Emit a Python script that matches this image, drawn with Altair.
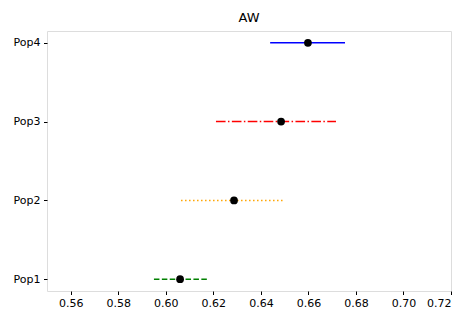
import altair as alt
import pandas as pd

pops = ["Pop1", "Pop2", "Pop3", "Pop4"]
centers = [0.606, 0.6287, 0.6485, 0.6598]
lows = [0.595, 0.6064, 0.6211, 0.6439]
highs = [0.6178, 0.6497, 0.6716, 0.6754]
colors = ["green", "orange", "red", "blue"]
dashes = [[5.5, 2.4], [1.5, 2.5], [9.6, 2.4, 1.5, 2.4], [1, 0]]
xticks = [0.56, 0.58, 0.60, 0.62, 0.64, 0.66, 0.68, 0.70, 0.72]

df = pd.DataFrame({"pop": pops, "c": centers, "lo": lows, "hi": highs})

x_scale = alt.Scale(domain=[0.55, 0.72], nice=False, zero=False)
y_scale = alt.Scale(type="point", padding=0.15)
y_enc = alt.Y("pop:N", sort=list(reversed(pops)), scale=y_scale,
              axis=alt.Axis(title=None, labelFontSize=11, labelColor="black",
                            tickColor="black", domain=False, grid=False,
                            tickSize=3.5, labelPadding=3.5, labelFont="DejaVu Sans"))

rules = alt.Chart(df).mark_rule(strokeWidth=1.5).encode(
    x=alt.X("lo:Q", scale=x_scale,
            axis=alt.Axis(title=None, values=xticks,
                          format=".2f", labelFontSize=11, labelColor="black",
                          tickColor="black", domain=False, grid=False, tickSize=3.5,
                          labelPadding=3, labelFont="DejaVu Sans", labelFlush=True)),
    x2="hi:Q",
    y=y_enc,
    color=alt.Color("pop:N", scale=alt.Scale(domain=pops, range=colors), legend=None),
    strokeDash=alt.StrokeDash("pop:N", scale=alt.Scale(domain=pops, range=dashes), legend=None),
)

points = alt.Chart(df).mark_point(filled=True, shape="circle", size=60, color="black", opacity=1).encode(
    x=alt.X("c:Q", scale=x_scale),
    y=alt.Y("pop:N", sort=list(reversed(pops)), scale=y_scale),
)

chart = alt.layer(rules, points).properties(
    width=404, height=260,
    title=alt.TitleParams("AW", fontSize=13, fontWeight="normal", font="DejaVu Sans", color="black", offset=6),
    autosize=alt.AutoSizeParams(type="none"),
    padding={"left": 39, "top": 23, "right": 8, "bottom": 21},
).configure_view(stroke="black", strokeWidth=1).configure(background="white")

chart.save("out.html", embed_options={"renderer": "svg", "actions": False})
